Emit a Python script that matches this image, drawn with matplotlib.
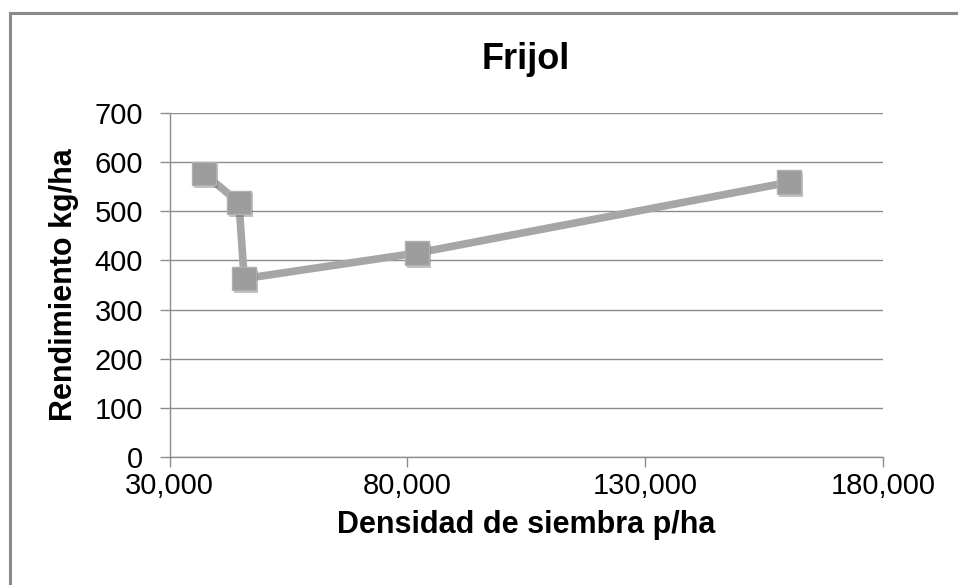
import matplotlib
matplotlib.use("Agg")
import matplotlib.pyplot as plt
import matplotlib.patheffects as pe
from matplotlib.patches import Rectangle
from matplotlib.ticker import FuncFormatter

plt.rcParams['font.family'] = ['Liberation Sans', 'DejaVu Sans']

# Densidad de siembra (plantas/ha) y rendimiento (kg/ha)
densidad = [37200, 44600, 45700, 82000, 160200]
rendimiento = [577, 518, 363, 415, 559]

x_ticks = [30000, 80000, 130000, 180000]
y_ticks = [0, 100, 200, 300, 400, 500, 600, 700]

fig = plt.figure(figsize=(9.58, 5.85), dpi=100)
ax = fig.add_axes([169.5 / 958, 1 - 457 / 585, (883 - 169.5) / 958, (457 - 113) / 585])

# outer chart border (only top and left visible in the original)
fig.patches.append(Rectangle((10 / 958, -0.05), 1.1, 1 - 13 / 585 + 0.05,
                             transform=fig.transFigure, fill=False,
                             edgecolor='#8a8a8a', linewidth=2.2))

ax.plot(densidad, rendimiento, color='#a6a6a6', linewidth=5.5, solid_capstyle='butt', zorder=3)
ax.plot(densidad, rendimiento, linestyle='none', marker='s', markersize=17,
        markerfacecolor='#9c9c9c', markeredgecolor='#b0b0b0', markeredgewidth=1,
        zorder=4,
        path_effects=[pe.SimplePatchShadow(offset=(1.5, -2), shadow_rgbFace='#555555', alpha=0.35),
                      pe.Normal()])

ax.set_xlim(30000, 180000)
ax.set_ylim(0, 700)
ax.set_xticks(x_ticks)
ax.set_yticks(y_ticks)
ax.xaxis.set_major_formatter(FuncFormatter(lambda v, p: f"{int(v):,}"))

ax.grid(axis='y', color='#8c8c8c', linewidth=1)
ax.set_axisbelow(True)
for s in ['top', 'right']:
    ax.spines[s].set_visible(False)
for s in ['left', 'bottom']:
    ax.spines[s].set_color('#8c8c8c')
    ax.spines[s].set_linewidth(1)
ax.tick_params(axis='both', direction='out', length=7, width=1, color='#8c8c8c',
               labelsize=21)
ax.tick_params(axis='x', pad=4)
ax.tick_params(axis='y', pad=12)

ax.set_title('Frijol', fontsize=26, fontweight='bold', pad=32)
ax.set_xlabel('Densidad de siembra p/ha', fontsize=22, fontweight='bold', labelpad=7)
ax.set_ylabel('Rendimiento kg/ha', fontsize=22, fontweight='bold', labelpad=11)

fig.savefig('out.png', dpi=100)
